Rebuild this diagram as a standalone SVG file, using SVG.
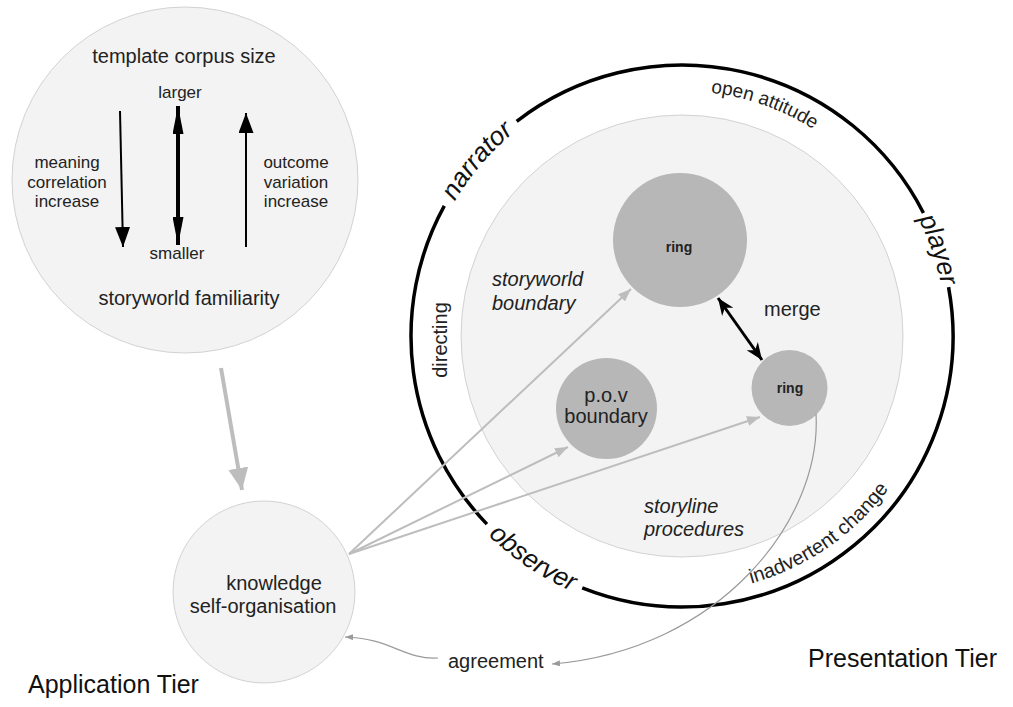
<svg xmlns="http://www.w3.org/2000/svg" width="1013" height="707" viewBox="0 0 1013 707">
  <style>
    text { font-family: "Liberation Sans", Arial, sans-serif; fill: #222; }
    .t20 { font-size: 20px; }
    .t19 { font-size: 19px; }
    .t17 { font-size: 17px; }
    .it { font-style: italic; }
    .ringlbl { font-size: 14px; font-weight: bold; text-anchor: middle; }
    .tier { font-size: 25px; fill: #111; }
    .role { font-size: 26px; font-style: italic; fill: #111; }
    .mid { text-anchor: middle; }
    .pale { fill: #f3f3f3; stroke: #d2d2d2; stroke-width: 1; }
    .node { fill: #b7b7b7; }
    .band { fill: none; stroke: #000; stroke-width: 3.5; }
    .grey { fill: none; stroke: #bdbdbd; stroke-width: 2; }
    .thin { fill: none; stroke: #9a9a9a; stroke-width: 1.2; }
  </style>
  <defs>
    <marker id="headBlk" markerUnits="userSpaceOnUse" markerWidth="20" markerHeight="15" refX="20" refY="7.5" orient="auto">
      <path d="M0,0 L20,7.5 L0,15 z" fill="#000"/>
    </marker>
    <marker id="headLong" markerUnits="userSpaceOnUse" markerWidth="28" markerHeight="11" refX="28" refY="5.5" orient="auto-start-reverse">
      <path d="M0,0 L28,5.5 L0,11 z" fill="#000"/>
    </marker>
    <marker id="headMerge" markerUnits="userSpaceOnUse" markerWidth="17" markerHeight="14" refX="17" refY="7" orient="auto-start-reverse">
      <path d="M0,0 L17,7 L0,14 L5,7 z" fill="#000"/>
    </marker>
    <marker id="headGrey" markerUnits="userSpaceOnUse" markerWidth="13" markerHeight="10" refX="13" refY="5" orient="auto">
      <path d="M0,0 L13,5 L0,10 z" fill="#bdbdbd"/>
    </marker>
    <marker id="headGreyBig" markerUnits="userSpaceOnUse" markerWidth="22" markerHeight="20" refX="22" refY="10" orient="auto">
      <path d="M0,0 L22,10 L0,20 z" fill="#bdbdbd"/>
    </marker>
    <marker id="headThin" markerUnits="userSpaceOnUse" markerWidth="8" markerHeight="6" refX="8" refY="3" orient="auto">
      <path d="M0,0 L8,3 L0,6 z" fill="#9a9a9a"/>
    </marker>
    <!-- baselines for labels that follow the presentation band -->
    <path id="arcNarrator" d="M422.46,287.66 A264,264 0 0 1 594.09,87.07"/>
    <path id="arcPlayer" d="M856.36,137.77 A264,264 0 0 1 940.88,387.73"/>
    <path id="arcObserver" d="M432.56,458.74 A278,278 0 0 0 663.58,613.39"/>
    <path id="arcAttitude" d="M637.77,95.03 A245,245 0 0 1 868.60,177.23"/>
    <path id="arcChange" d="M702.61,592.17 A257,257 0 0 0 914.16,446.24"/>
  </defs>

  <rect width="1013" height="707" fill="#fff"/>

  <!-- application tier: familiarity / corpus size -->
  <g id="familiarity">
    <circle class="pale" cx="185" cy="180" r="173"/>
    <text class="t20 mid" x="184" y="63">template corpus size</text>
    <text class="t17 mid" x="180" y="98">larger</text>
    <text class="t17 mid" x="177" y="259">smaller</text>
    <text class="t20 mid" x="189" y="305">storyworld familiarity</text>
    <text class="t17 mid" x="67" y="168">meaning</text>
    <text class="t17 mid" x="67" y="188">correlation</text>
    <text class="t17 mid" x="67" y="207">increase</text>
    <text class="t17 mid" x="296" y="168">outcome</text>
    <text class="t17 mid" x="296" y="188">variation</text>
    <text class="t17 mid" x="296" y="207">increase</text>
    <line x1="120" y1="111" x2="123" y2="247" stroke="#000" stroke-width="2" marker-end="url(#headBlk)"/>
    <line x1="178" y1="106" x2="178" y2="245" stroke="#000" stroke-width="4" marker-start="url(#headLong)" marker-end="url(#headLong)"/>
    <line x1="246" y1="247" x2="246" y2="113" stroke="#000" stroke-width="2" marker-end="url(#headBlk)"/>
  </g>

  <!-- application tier: knowledge node -->
  <g id="knowledge">
    <circle class="pale" cx="264" cy="592" r="91"/>
    <text class="t20 mid" x="274" y="590">knowledge</text>
    <text class="t20 mid" x="263" y="613">self-organisation</text>
  </g>

  <!-- presentation tier: storyworld -->
  <g id="storyworld">
    <circle class="pale" cx="682" cy="336" r="221"/>
    <text class="t20 it" x="492" y="286">storyworld</text>
    <text class="t20 it" x="492" y="310">boundary</text>
    <text class="t20 it" x="644" y="513">storyline</text>
    <text class="t20 it" x="644" y="536">procedures</text>
    <text class="t20" x="764" y="316">merge</text>
  </g>

  <!-- presentation tier: role band -->
  <g id="roles">
    <path class="band" d="M516.68,121.27 A271,271 0 0 1 923.46,212.97"/>
    <path class="band" d="M948.55,287.08 A271,271 0 0 1 582.24,587.97"/>
    <path class="band" d="M486.93,524.12 A271,271 0 0 1 444.29,205.86"/>
    <text class="role"><textPath href="#arcNarrator" startOffset="50%" text-anchor="middle">narrator</textPath></text>
    <text class="role"><textPath href="#arcPlayer" startOffset="50%" text-anchor="middle">player</textPath></text>
    <text class="role"><textPath href="#arcObserver" startOffset="50%" text-anchor="middle">observer</textPath></text>
    <text class="t19"><textPath href="#arcAttitude" startOffset="50%" text-anchor="middle">open attitude</textPath></text>
    <text class="t20"><textPath href="#arcChange" startOffset="50%" text-anchor="middle">inadvertent change</textPath></text>
    <text class="t20 mid" transform="translate(447,340) rotate(-90)">directing</text>
  </g>

  <g id="ring-large">
    <circle class="node" cx="680" cy="240" r="67"/>
    <text class="ringlbl" x="679" y="252">ring</text>
  </g>
  <g id="ring-small">
    <circle class="node" cx="789.5" cy="388" r="38"/>
    <text class="ringlbl" x="790" y="393">ring</text>
  </g>
  <g id="pov">
    <circle class="node" cx="606.5" cy="408.5" r="50.5"/>
    <text class="t20 mid" x="606" y="402">p.o.v</text>
    <text class="t20 mid" x="606" y="423">boundary</text>
  </g>

  <g id="agreement">
    <text class="t20" x="448" y="668">agreement</text>
  </g>

  <g id="tiers">
    <text class="tier" x="28" y="693">Application Tier</text>
    <text class="tier" x="808" y="667">Presentation Tier</text>
  </g>

  <g id="connectors">
    <line x1="221" y1="368" x2="242" y2="490" stroke="#bdbdbd" stroke-width="4" marker-end="url(#headGreyBig)"/>
    <line class="grey" x1="349" y1="554" x2="631" y2="289" marker-end="url(#headGrey)"/>
    <line class="grey" x1="349" y1="554" x2="568" y2="447" marker-end="url(#headGrey)"/>
    <line class="grey" x1="349" y1="554" x2="760" y2="417" marker-end="url(#headGrey)"/>
    <line x1="718" y1="298" x2="762" y2="360" stroke="#000" stroke-width="3" marker-start="url(#headMerge)" marker-end="url(#headMerge)"/>
    <path class="thin" d="M816,414 C822,520 720,650 552,664" marker-end="url(#headThin)"/>
    <path class="thin" d="M438,658 C405,660 390,638 345,637" marker-end="url(#headThin)"/>
  </g>
</svg>
